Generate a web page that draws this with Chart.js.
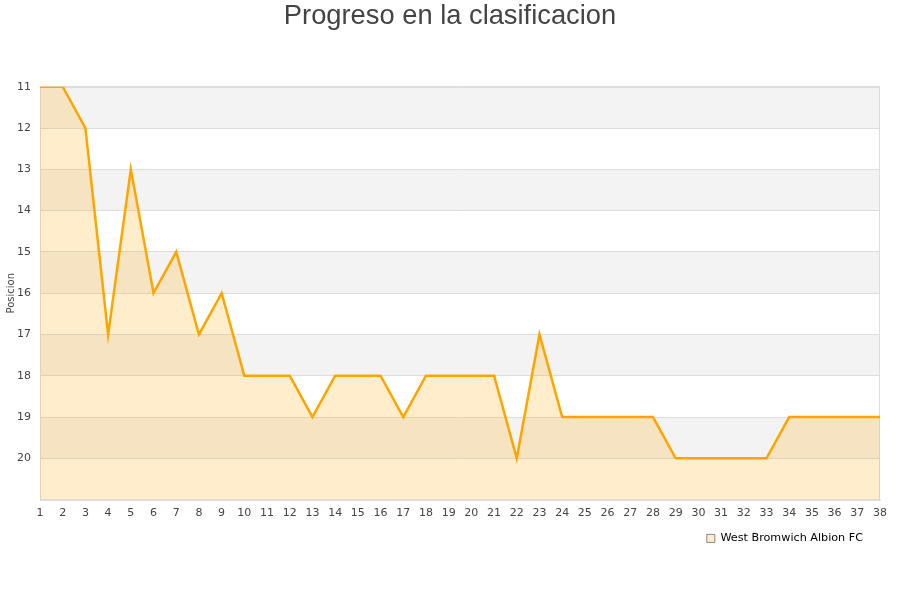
<!DOCTYPE html>
<html><head><meta charset="utf-8">
<script src="https://cdn.jsdelivr.net/npm/chart.js@4/dist/chart.umd.min.js"></script>
<style>html,body{margin:0;padding:0;background:#fff}#w{width:900px;height:600px}</style>
</head><body><div id="w"><canvas id="c"></canvas></div>
<script>
const jornadas = Array.from({length:38},(_,i)=>String(i+1));
const posiciones = [11,11,12,17,13,16,15,17,16,18,18,18,19,18,18,18,19,18,18,18,18,20,17,19,19,19,19,19,20,20,20,20,20,19,19,19,19,19];
const equipo = 'West Bromwich Albion FC';
const titulo = 'Progreso en la clasificacion';

const bands = {
  id:'bands',
  beforeDraw(chart){
    const {ctx, chartArea:a, scales:{y}} = chart;
    ctx.save();
    for(let v=11; v<21; v+=2){
      const y1=y.getPixelForValue(v), y2=y.getPixelForValue(v+1);
      ctx.fillStyle='#f3f3f3';
      ctx.fillRect(a.left, Math.min(y1,y2), a.right-a.left, Math.abs(y2-y1));
    }
    ctx.restore();
  },
  beforeDatasetsDraw(chart){
    const {ctx, chartArea:a} = chart;
    ctx.save();
    ctx.strokeStyle='#ddd'; ctx.lineWidth=1;
    ctx.strokeRect(Math.round(a.left)+0.5, Math.round(a.top)+0.5, Math.round(a.right-a.left)-1, Math.round(a.bottom-a.top));
    ctx.restore();
  }
};
const boxShift = {
  id:'boxShift',
  afterLayout(chart){
    if(chart.legend){ chart.legend.left -= 11; chart.legend.right -= 11; }
    if(chart.titleBlock){ chart.titleBlock.left += 10; chart.titleBlock.right += 10; }
  }
};

new Chart(document.getElementById('c'),{
  type:'line',
  data:{labels:jornadas,datasets:[{
    label:equipo,data:posiciones,borderColor:'#FFA500',borderWidth:2.5,
    backgroundColor:'rgba(255,165,0,0.2)',fill:{value:21},pointRadius:0,tension:0
  }]},
  options:{
    responsive:true,maintainAspectRatio:false,animation:false,
    layout:{padding:{left:0,right:20,top:0,bottom:46}},
    plugins:{
      title:{display:true,text:titulo,color:'#444',font:{family:'Liberation Sans',size:27.3,weight:'normal'},padding:{top:0,bottom:54}},
      legend:{position:'bottom',align:'end',labels:{boxWidth:8,boxHeight:8,padding:6,color:'#222',font:{family:'DejaVu Sans',size:11.2},
        generateLabels(ch){return [{text:equipo,fillStyle:'rgba(255,165,0,0.2)',strokeStyle:'#888',lineWidth:1,datasetIndex:0}];}}},
      tooltip:{enabled:false}
    },
    scales:{
      x:{offset:false,grid:{display:false,drawTicks:false},border:{color:'#ddd'},
        ticks:{color:'#444',font:{family:'DejaVu Sans',size:11},maxRotation:0,autoSkip:false,padding:7}},
      y:{reverse:true,min:11,max:21,grid:{color:'#ddd',drawTicks:false},border:{color:'#ddd'},
        afterFit(s){ s.width = 40; },
        ticks:{stepSize:1,color:'#444',font:{family:'DejaVu Sans',size:11},padding:9,callback:(v)=>v<21?v:''},
        title:{display:true,text:'Posicion',color:'#444',font:{family:'DejaVu Sans',size:10},padding:{top:5,bottom:0}}}
    }
  },
  plugins:[bands,boxShift]
});
</script></body></html>
